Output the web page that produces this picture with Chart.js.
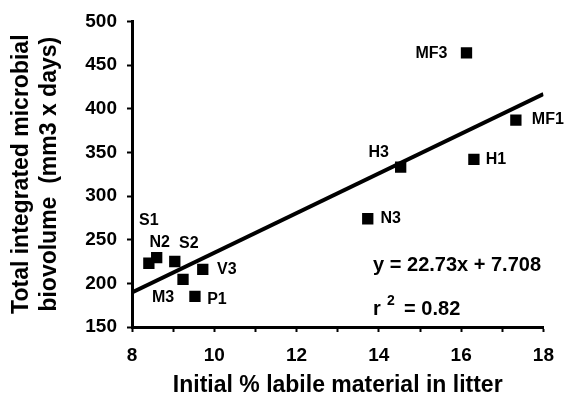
<!DOCTYPE html>
<html>
<head>
<meta charset="utf-8">
<script src="https://cdn.jsdelivr.net/npm/chart.js@4/dist/chart.umd.min.js"></script>
<style>
  html, body { margin: 0; padding: 0; background: #fff; }
  canvas { display: block; }
</style>
</head>
<body>
<canvas id="chart" width="566" height="402"></canvas>
<script>
// Litter samples
const sampleLabels = ['S1', 'N2', 'S2', 'M3', 'V3', 'P1', 'N3', 'H3', 'H1', 'MF3', 'MF1'];
const labileMaterial = [8.41, 8.60, 9.04, 9.24, 9.72, 9.53, 13.73, 14.53, 16.31, 16.13, 17.33];
const biovolume = [223, 229.5, 225, 204.5, 216, 185, 274, 333, 342, 464, 387];

// Regression line ends, as drawn
const fitX = [8, 18];
const fitY = [189.5, 416.8];

const xTicks = [8, 10, 12, 14, 16, 18];
const yTicks = [150, 200, 250, 300, 350, 400, 450, 500];

const equationText = 'y = 22.73x + 7.708';
const rSquaredText = '= 0.82';

const FONT = '"Liberation Sans", Arial, Helvetica, sans-serif';

// where each label sits relative to its square (px)
const labelOffsets = {
    S1: [0, -43], N2: [3, -15], S2: [14, -18], M3: [-20, 18], V3: [24, 0], P1: [22, 3],
    N3: [23, 0], H3: [-22, -15], H1: [22, 0], MF3: [-35, 1], MF1: [32, 0]
};

const pointLabels = {
    id: 'pointLabels',
    afterDatasetsDraw(chart) {
        const { ctx, scales: { x, y } } = chart;
        ctx.save();
        ctx.fillStyle = '#000';
        ctx.font = 'bold 16px ' + FONT;
        ctx.textAlign = 'center';
        ctx.textBaseline = 'middle';
        sampleLabels.forEach((name, i) => {
            const off = labelOffsets[name];
            ctx.fillText(name, x.getPixelForValue(labileMaterial[i]) + off[0],
                y.getPixelForValue(biovolume[i]) + off[1]);
        });

        // equation and r squared
        ctx.font = 'bold 20px ' + FONT;
        ctx.textAlign = 'left';
        const ex = x.getPixelForValue(13.86);
        ctx.fillText(equationText, ex, y.getPixelForValue(220));
        const ry = y.getPixelForValue(170);
        ctx.fillText('r', ex, ry);
        ctx.font = 'bold 14px ' + FONT;
        ctx.fillText('2', ex + 14, ry - 8);
        ctx.font = 'bold 20px ' + FONT;
        ctx.fillText(rSquaredText, ex + 31, ry);
        ctx.restore();
    }
};

new Chart(document.getElementById('chart'), {
    type: 'scatter',
    data: {
        datasets: [{
            type: 'line',
            data: fitX.map((v, i) => ({ x: v, y: fitY[i] })),
            borderColor: '#000',
            borderWidth: 4,
            pointRadius: 0,
            fill: false
        }, {
            data: labileMaterial.map((v, i) => ({ x: v, y: biovolume[i] })),
            pointStyle: 'rect',
            pointRadius: 8,
            backgroundColor: '#000',
            borderWidth: 0
        }]
    },
    options: {
        responsive: false,
        animation: false,
        layout: { padding: { top: 19, right: 18, left: 0, bottom: 0 } },
        plugins: {
            legend: { display: false },
            tooltip: { enabled: false }
        },
        scales: {
            x: {
                type: 'linear',
                min: 8,
                max: 18,
                afterFit: (scale) => { scale.height = 75; },
                border: { display: true, color: '#000', width: 3 },
                grid: { display: true, drawOnChartArea: false, drawTicks: true, tickLength: 5, tickWidth: 2, tickColor: '#000' },
                ticks: {
                    stepSize: 1,
                    autoSkip: false,
                    maxRotation: 0,
                    padding: 12,
                    color: '#000',
                    font: { family: FONT, size: 19, weight: 'bold' },
                    callback: (v) => xTicks.includes(v) ? String(v) : ''
                },
                title: {
                    display: true,
                    text: 'Initial % labile material in litter',
                    color: '#000',
                    font: { family: FONT, size: 23, weight: 'bold', lineHeight: 1.2 },
                    padding: { top: 0, bottom: 3 }
                }
            },
            y: {
                min: 150,
                max: 500,
                afterFit: (scale) => { scale.width = 132; },
                border: { display: true, color: '#000', width: 3 },
                grid: { display: true, drawOnChartArea: false, drawTicks: true, tickLength: 5, tickWidth: 2, tickColor: '#000' },
                ticks: {
                    stepSize: 50,
                    padding: 10,
                    color: '#000',
                    font: { family: FONT, size: 19, weight: 'bold' },
                    callback: (v) => yTicks.includes(v) ? String(v) : ''
                },
                title: {
                    display: true,
                    text: ['Total integrated microbial', 'biovolume  (mm3 x days)'],
                    color: '#000',
                    font: { family: FONT, size: 23, weight: 'bold', lineHeight: 1.2 },
                    padding: { top: 8, bottom: 0 }
                }
            }
        }
    },
    plugins: [pointLabels]
});
</script>
</body>
</html>
